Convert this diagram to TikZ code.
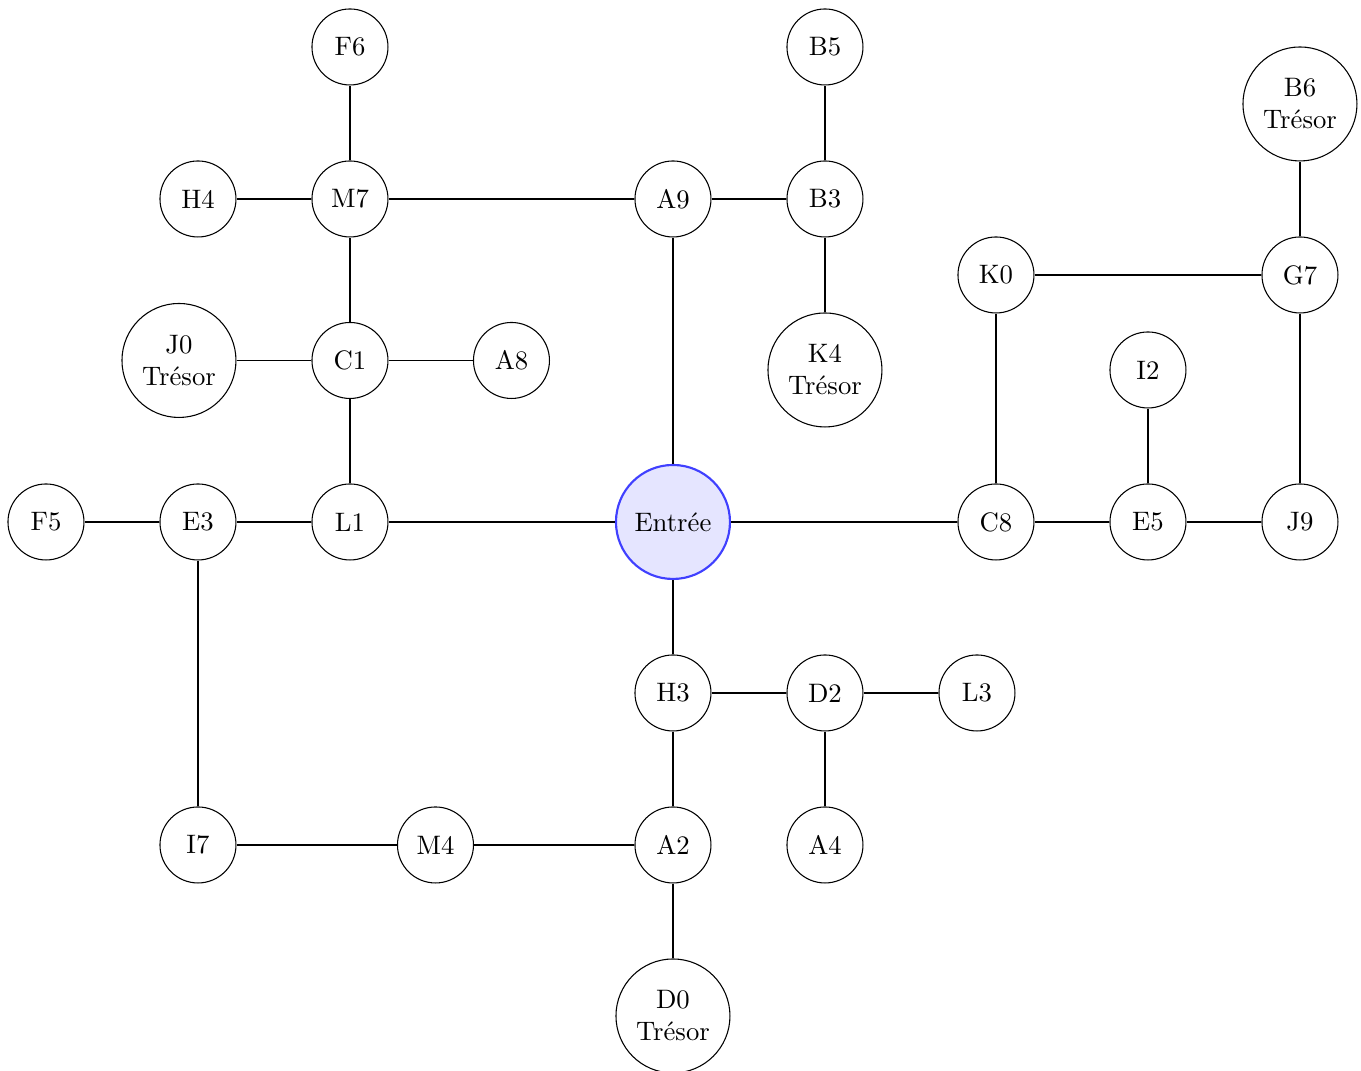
\documentclass[tikz,border=0pt]{standalone}
\usepackage{amsmath}
\usepackage{amssymb}
\usetikzlibrary{
    positioning,
    calc
}
\tikzset {
    room/.style = {circle, draw, minimum size = 1cm, inner sep = 1pt},
    treasure/.style = {circle, draw, minimum size = 1.5cm, inner sep = 1pt, align = center},
    entry/.style = {circle, draw = blue!75, fill = blue!10, thick, minimum size = 1.5cm, inner sep = 1pt},
    %
    corridor/.style = {}
}

\begin{document}
\begin{tikzpicture}
            \useasboundingbox (-8.855, -7.224) rectangle (9.053, 6.868);
            \node (in) [entry] at (0, 0) {Entrée};
            % top left
            \node (f6) [room] at (-4.25, 6.25) {F6};
            \node (h4) [room] at (-6.25, 4.25) {H4};
            \node (m7) [room] at (-4.25, 4.25) {M7};
            \node (j0) [treasure] at (-6.5, 2.125) {J0\\Trésor};
            \node (c1) [room] at (-4.25, 2.125) {C1};
            \node (a8) [room] at (-2.125, 2.125) {A8};
            \node (f5) [room] at (-8.25, 0) {F5};
            \node (e3) [room] at (-6.25, 0) {E3};
            \node (l1) [room] at (-4.25, 0) {L1};
            % top middle
            \node (a9) [room] at (0, 4.25) {A9};
            \node (b3) [room] at (2, 4.25) {B3};
            \node (b5) [room] at (2, 6.25) {B5};
            \node (k4) [treasure] at (2, 2) {K4\\Trésor};
            % right
            \node (c8) [room] at (4.25, 0) {C8};
            \node (e5) [room] at (6.25, 0) {E5};
            \node (j9) [room] at (8.25, 0) {J9};
            \node (i2) [room] at (6.25, 2) {I2};
            \node (k0) [room] at (4.25, 3.25) {K0};
            \node (g7) [room] at (8.25, 3.25) {G7};
            \node (b6) [treasure] at (8.25, 5.5) {B6\\Trésor};
            % bottom
            \node (h3) [room] at (0, -2.25) {H3};
            \node (d2) [room] at (2, -2.25) {D2};
            \node (l3) [room] at (4, -2.25) {L3};
            \node (a2) [room] at (0, -4.25) {A2};
            \node (a4) [room] at (2, -4.25) {A4};
            \node (m4) [room] at (-3.125, -4.25) {M4};
            \node (i7) [room] at (-6.25, -4.25) {I7};
            \node (d0) [treasure] at (0, -6.5) {D0\\Trésor};
            % corridors
            \draw [corridor] (in) -- (l1);
            \draw [corridor] (l1) -- (e3);
            \draw [corridor] (e3) -- (f5);
            \draw [corridor] (l1) -- (c1);
            \draw [corridor] (c1) -- (j0);
            \draw [corridor] (c1) -- (a8);
            \draw [corridor] (c1) -- (m7);
            \draw [corridor] (m7) -- (h4);
            \draw [corridor] (m7) -- (f6);
            \draw [corridor] (m7) -- (a9);
            \draw [corridor] (in) -- (a9);
            \draw [corridor] (a9) -- (b3);
            \draw [corridor] (b3) -- (b5);
            \draw [corridor] (b3) -- (k4);
            \draw [corridor] (in) -- (c8);
            \draw [corridor] (c8) -- (e5);
            \draw [corridor] (e5) -- (j9);
            \draw [corridor] (e5) -- (i2);
            \draw [corridor] (c8) -- (k0);
            \draw [corridor] (k0) -- (g7);
            \draw [corridor] (g7) -- (j9);
            \draw [corridor] (g7) -- (b6);
            \draw [corridor] (in) -- (h3);
            \draw [corridor] (h3) -- (d2);
            \draw [corridor] (d2) -- (l3);
            \draw [corridor] (d2) -- (a4);
            \draw [corridor] (h3) -- (a2);
            \draw [corridor] (a2) -- (d0);
            \draw [corridor] (a2) -- (m4);
            \draw [corridor] (m4) -- (i7);
            \draw [corridor] (i7) -- (e3);
        \end{tikzpicture}
\end{document}
